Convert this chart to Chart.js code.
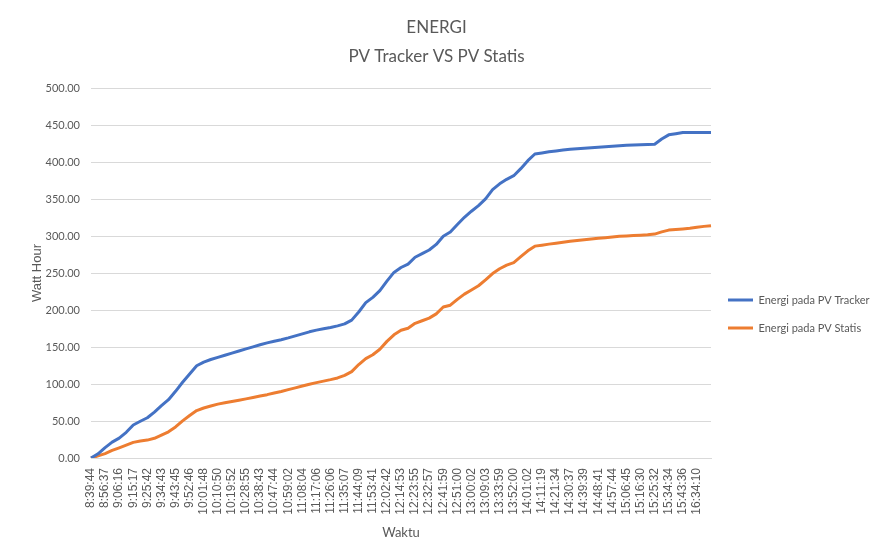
<!DOCTYPE html>
<html>
<head>
<meta charset="utf-8">
<script src="https://cdn.jsdelivr.net/npm/chart.js@4/dist/chart.umd.min.js"></script>
<style>
  html, body { margin: 0; padding: 0; background: #fff; }
  #wrap { width: 873px; height: 559px; }
</style>
</head>
<body>
<div id="wrap"><canvas id="chart" width="873" height="559"></canvas></div>
<script>
// tick labels shown on the time axis (every other sample carries one)
const tickLabels = [
  '8:39:44', '8:56:37', '9:06:16', '9:15:17', '9:25:42', '9:34:43', '9:43:45', '9:52:46',
  '10:01:48', '10:10:50', '10:19:52', '10:28:55', '10:38:43', '10:47:44', '10:59:02',
  '11:08:04', '11:17:06', '11:26:06', '11:35:07', '11:44:09', '11:53:41', '12:02:42',
  '12:14:53', '12:23:55', '12:32:57', '12:41:59', '12:51:00', '13:00:02', '13:09:03',
  '13:33:59', '13:52:00', '14:01:02', '14:11:19', '14:21:34', '14:30:37', '14:39:39',
  '14:48:41', '14:57:44', '15:06:45', '15:16:30', '15:25:32', '15:34:34', '15:43:36',
  '16:34:10'];

// Energi pada PV Tracker (Wh)
const trackerValues = [
  0, 5.7, 14.1, 21.5, 26.9, 34.7, 44.6, 49.6, 54.4, 62.1,
  70.7, 78.8, 90.1, 102.4, 113.6, 124.6, 129.6, 133.1, 136, 138.9,
  141.8, 144.6, 147.4, 150.2, 153, 155.6, 157.8, 159.9, 162.3, 165,
  167.8, 170.5, 172.8, 174.6, 176.3, 178.6, 181.2, 186.3, 197.3, 210,
  217.1, 226.2, 239, 250.8, 257.4, 262, 271.3, 276.2, 281.1, 288.6,
  299.7, 305.4, 315.6, 325.3, 333.5, 341.1, 350.2, 362.7, 370.5, 376.6,
  381.5, 391, 401.8, 410.8, 412.3, 413.8, 415, 416.1, 417.3, 418,
  418.6, 419.3, 419.9, 420.6, 421.3, 422, 422.7, 423, 423.3, 423.7,
  424, 431, 436.7, 438.3, 439.9, 440, 440, 440, 440];

// Energi pada PV Statis (Wh)
const statisValues = [
  0, 2.8, 6, 10.2, 13.8, 17.4, 21.1, 23, 24.2, 26.6,
  30.9, 35.4, 41.9, 50.2, 57.4, 64.1, 67.6, 70.2, 72.8, 74.6,
  76.4, 78.1, 79.9, 81.8, 83.7, 85.6, 87.8, 89.9, 92.4, 94.8,
  97.2, 99.7, 101.9, 103.9, 105.9, 108.2, 111.7, 116.8, 126.3, 134.3,
  139.5, 147, 157.6, 166.4, 172.6, 175.3, 182, 185.5, 189, 194.8,
  204, 206.5, 214.4, 221.5, 227.1, 232.8, 240.6, 249.2, 255.7, 260.6,
  264.1, 272, 280, 286.3, 287.6, 289, 290.3, 291.7, 293, 294,
  294.9, 295.9, 296.8, 297.7, 298.7, 299.6, 300.1, 300.6, 301.1, 301.6,
  302.6, 305.6, 308, 308.8, 309.6, 310.5, 311.8, 313, 314];

const yTicks = { min: 0, max: 500, step: 50 };

const seriesNames = ['Energi pada PV Tracker', 'Energi pada PV Statis'];
const seriesColors = ['#4472C4', '#ED7D31'];

const textColor = '#595959';
const uiFont = "Lato, 'Noto Sans', sans-serif";

const categories = trackerValues.map((v, i) => (i % 2 === 0 && tickLabels[i / 2]) ? tickLabels[i / 2] : '');

const ctx = document.getElementById('chart').getContext('2d');
const chart = new Chart(ctx, {
    type: 'line',
    data: {
        labels: categories,
        datasets: [
            { label: seriesNames[0], data: trackerValues, borderColor: seriesColors[0], backgroundColor: seriesColors[0],
              borderWidth: 3, pointRadius: 0, pointHoverRadius: 0, fill: false, tension: 0, borderJoinStyle: 'round' },
            { label: seriesNames[1], data: statisValues, borderColor: seriesColors[1], backgroundColor: seriesColors[1],
              borderWidth: 3, pointRadius: 0, pointHoverRadius: 0, fill: false, tension: 0, borderJoinStyle: 'round' }
        ]
    },
    options: {
        responsive: false,
        animation: false,
        devicePixelRatio: 1,
        plugins: {
            title: {
                display: true,
                text: ['ENERGI', 'PV Tracker VS PV Statis'],
                color: textColor,
                font: { family: uiFont, size: 17, weight: 'normal', lineHeight: 29 / 17 },
                padding: { top: 13.5, bottom: 16.5 }
            },
            legend: {
                position: 'right',
                align: 'center',
                maxWidth: 162,
                // empty title only pushes the two entries a bit below the middle
                title: { display: true, text: '', font: { size: 10, lineHeight: 1 }, padding: { top: 59, bottom: 0 } },
                labels: {
                    color: textColor,
                    font: { family: uiFont, size: 11 },
                    usePointStyle: true,
                    pointStyle: 'line',
                    pointStyleWidth: 25,
                    padding: 17
                }
            },
            tooltip: { enabled: false }
        },
        scales: {
            x: {
                type: 'category',
                offset: false,
                grid: { display: false, drawTicks: false },
                border: { display: true, color: '#d9d9d9', width: 1 },
                ticks: {
                    autoSkip: false,
                    maxRotation: 90,
                    minRotation: 90,
                    padding: 10,
                    color: textColor,
                    font: { family: "'Liberation Sans', Arial, sans-serif", size: 12 }
                },
                title: {
                    display: true,
                    text: 'Waktu',
                    color: textColor,
                    font: { family: uiFont, size: 13 },
                    padding: { top: 0, bottom: 18 }
                },
                afterFit: function (scale) { scale.height = 101; }
            },
            y: {
                min: yTicks.min,
                max: yTicks.max,
                grid: { color: '#d9d9d9', lineWidth: 1, drawTicks: false },
                border: { display: false },
                ticks: {
                    stepSize: yTicks.step,
                    padding: 11,
                    color: textColor,
                    font: { family: uiFont, size: 11 },
                    callback: function (value) { return Number(value).toFixed(2); }
                },
                title: {
                    display: true,
                    text: 'Watt Hour',
                    color: textColor,
                    font: { family: "'Liberation Sans', Arial, sans-serif", size: 13 },
                    padding: { top: 29.6, bottom: 0 }
                },
                afterFit: function (scale) { scale.width = 91; }
            }
        }
    }
});
</script>
</body>
</html>
